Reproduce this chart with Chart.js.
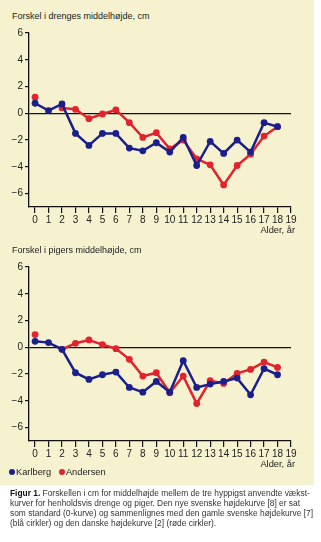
<!DOCTYPE html>
<html>
<head>
<meta charset="utf-8">
<title>Forskel i middelhøjde</title>
<script src="https://cdn.jsdelivr.net/npm/chart.js"></script>
<style>
    body { margin: 0; padding: 0; width: 321px; height: 542px; background: #fff; position: relative; overflow: hidden;
           font-family: "Liberation Sans", Arial, sans-serif; color: #222; }
    .panel { position: absolute; left: 0; top: 0; width: 314px; height: 485px; background: #f6f2cf; }
    .box { position: absolute; left: 0; width: 314px; height: 232px; }
    .title { position: absolute; left: 12px; font-size: 9px; white-space: nowrap; }
    .alder { position: absolute; right: 26px; font-size: 9.3px; white-space: nowrap; }
    .legend { position: absolute; left: 9px; top: 467px; font-size: 9.3px; white-space: nowrap; }
    .legend span.dot { display: inline-block; width: 6px; height: 6px; border-radius: 3px; margin-right: 1px; vertical-align: 0px; }
    .caption { position: absolute; left: 10px; top: 488px; font-size: 8.4px; line-height: 10px; white-space: nowrap; color: #333; }
    .caption b { color: #111; }
</style>
</head>
<body>
<div class="panel"></div>

<div class="title" style="top: 11px;">Forskel i drenges middelhøjde, cm</div>
<div class="box" style="top: 0px;"><canvas id="boysChart"></canvas></div>
<div class="alder" style="top: 225px;">Alder, år</div>

<div class="title" style="top: 245px;">Forskel i pigers middelhøjde, cm</div>
<div class="box" style="top: 234px;"><canvas id="girlsChart"></canvas></div>
<div class="alder" style="top: 459px;">Alder, år</div>

<div class="legend"><span class="dot" style="background:#1b1f8c"></span>Karlberg &nbsp; <span class="dot" style="background:#e1232e"></span>Andersen</div>

<div class="caption"><b>Figur 1.</b> Forskellen i cm for middelhøjde mellem de tre hyppigst anvendte vækst-<br>kurver for henholdsvis drenge og piger. Den nye svenske højdekurve [8] er sat<br>som standard (0-kurve) og sammenlignes med den gamle svenske højdekurve [7]<br>(blå cirkler) og den danske højdekurve [2] (røde cirkler).</div>

<script>
    // Alder (år)
    var ages = [0, 1, 2, 3, 4, 5, 6, 7, 8, 9, 10, 11, 12, 13, 14, 15, 16, 17, 18];
    var xTicks = [0, 1, 2, 3, 4, 5, 6, 7, 8, 9, 10, 11, 12, 13, 14, 15, 16, 17, 18, 19];
    var yTicks = [-6, -4, -2, 0, 2, 4, 6];

    // Drenge
    var boysKarlberg = [0.75, 0.2, 0.7, -1.5, -2.4, -1.5, -1.5, -2.6, -2.8, -2.2, -2.9, -1.8, -3.9, -2.1, -3.0, -2.0, -2.9, -0.7, -1.0];
    var boysAndersen = [1.2, null, 0.4, 0.3, -0.4, -0.05, 0.25, -0.7, -1.8, -1.45, -2.65, -2.0, -3.4, -3.85, -5.35, -3.9, -3.05, -1.7, -1.0];

    // Piger
    var girlsKarlberg = [0.45, 0.35, -0.15, -1.9, -2.4, -2.05, -1.85, -3.0, -3.35, -2.55, -3.35, -1.0, -3.0, -2.75, -2.55, -2.3, -3.55, -1.6, -2.05];
    var girlsAndersen = [0.95, null, -0.15, 0.3, 0.55, 0.2, -0.1, -0.9, -2.15, -1.9, -3.4, -2.15, -4.2, -2.5, -2.7, -1.95, -1.65, -1.1, -1.5];

    var blue = '#1b1f8c';
    var red = '#e1232e';
    var tickFont = { family: '"Liberation Sans", Arial, sans-serif', size: 10 };

    function toPoints(values) {
        return ages.map((a, i) => ({ x: a, y: values[i] }));
    }

    function makeDataset(values, color) {
        return {
            data: toPoints(values),
            borderColor: color,
            backgroundColor: color,
            borderWidth: 2.5,
            pointRadius: 3.4,
            pointBorderWidth: 0,
            tension: 0,
            spanGaps: false,
            clip: false
        };
    }

    function makeChart(id, karlberg, andersen) {
        var canvas = document.getElementById(id);
        canvas.width = 314;
        canvas.height = 232;
        return new Chart(canvas, {
            type: 'line',
            data: {
                datasets: [
                    makeDataset(karlberg, blue),
                    makeDataset(andersen, red)
                ]
            },
            options: {
                responsive: false,
                animation: false,
                layout: { padding: { top: 33, left: 5, right: 23, bottom: 0 } },
                plugins: { legend: { display: false }, tooltip: { enabled: false } },
                scales: {
                    x: {
                        type: 'linear',
                        min: -0.45,
                        max: 19,
                        afterBuildTicks: (scale) => { scale.ticks = xTicks.map(v => ({ value: v })); },
                        afterFit: (scale) => { scale.height = 25; },
                        border: { display: true, color: '#111', width: 1.3 },
                        grid: { drawOnChartArea: false, drawTicks: true, tickLength: 6, tickColor: '#111', lineWidth: 1.2 },
                        ticks: { color: '#222', font: tickFont, padding: 1, autoSkip: false, maxRotation: 0 }
                    },
                    y: {
                        min: -7,
                        max: 6,
                        afterBuildTicks: (scale) => { scale.ticks = yTicks.map(v => ({ value: v })); },
                        afterFit: (scale) => { scale.width = 24; },
                        border: { display: true, color: '#111', width: 1.3 },
                        grid: {
                            drawOnChartArea: true,
                            drawTicks: true,
                            tickLength: 4,
                            tickColor: '#111',
                            lineWidth: 1.2,
                            color: (ctx) => (ctx.tick && ctx.tick.value === 0) ? '#111' : 'rgba(0,0,0,0)'
                        },
                        ticks: {
                            color: '#222',
                            font: tickFont,
                            padding: 2,
                            callback: (v) => v < 0 ? '\u2212' + Math.abs(v) : String(v)
                        }
                    }
                }
            }
        });
    }

    makeChart('boysChart', boysKarlberg, boysAndersen);
    makeChart('girlsChart', girlsKarlberg, girlsAndersen);
</script>
</body>
</html>
